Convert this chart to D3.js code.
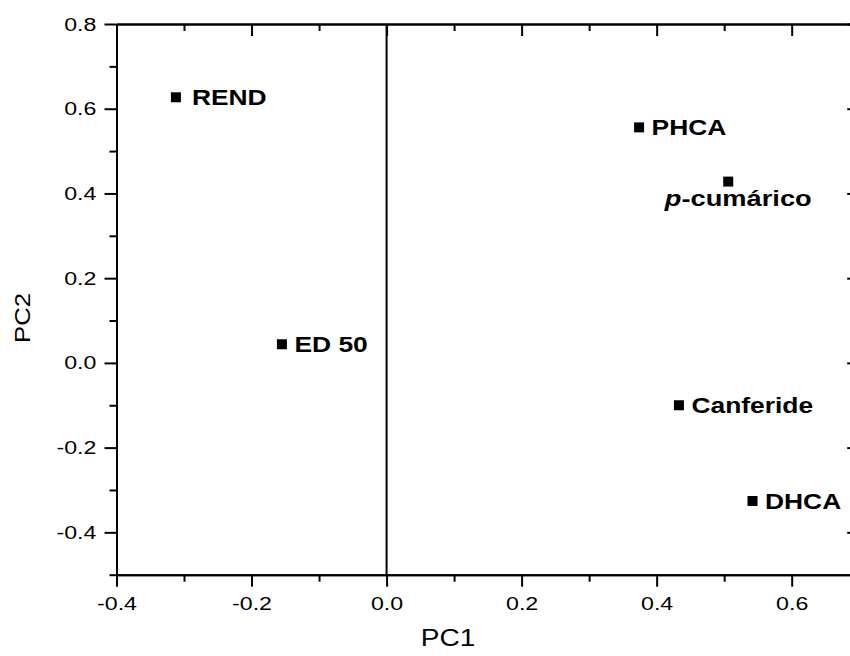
<!DOCTYPE html>
<html>
<head>
<meta charset="utf-8">
<script src="https://cdn.jsdelivr.net/npm/d3@7"></script>
<style>
  html, body { margin: 0; padding: 0; background: #fff; }
  svg { display: block; }
  .tick text { font-family: "Liberation Sans", Arial, sans-serif; font-size: 19px; fill: #000; }
  .axis path, .axis line { stroke: #000; stroke-width: 2px; }
  .pt-label { font-family: "Liberation Sans", Arial, sans-serif; font-weight: bold; font-size: 22px; fill: #000; }
  .title { font-family: "Liberation Sans", Arial, sans-serif; font-size: 23px; fill: #000; }
</style>
</head>
<body>
<script>
// PCA loadings: variable names and their PC1 / PC2 coordinates
const labels = ["REND", "ED 50", "PHCA", "p-cumárico", "Canferide", "DHCA"];
const pc1 = [-0.312, -0.155, 0.374, 0.506, 0.433, 0.542];
const pc2 = [0.627, 0.044, 0.556, 0.428, -0.100, -0.326];

// Axis ticks
const xMajor = [-0.4, -0.2, 0.0, 0.2, 0.4, 0.6];
const xMinor = [-0.3, -0.1, 0.1, 0.3, 0.5, 0.7];
const yMajor = [-0.4, -0.2, 0.0, 0.2, 0.4, 0.6, 0.8];
const yMinor = [-0.5, -0.3, -0.1, 0.1, 0.3, 0.5, 0.7];

const W = 850, H = 656;
const svg = d3.select("body").append("svg").attr("width", W).attr("height", H);

const x = d3.scaleLinear().domain([-0.4, 0.7]).range([116.5, 859.2]);
const y = d3.scaleLinear().domain([-0.5, 0.8]).range([574.7, 24]);

// plain hyphen for negatives, one decimal
const fmt = v => d3.format(".1f")(v).replace("\u2212", "-");
const big = 12, small = 7;
const wide = 1.22;   // horizontal glyph stretch used for all text

function addAxis(axisGen, transform, labelled) {
  const g = svg.append("g").attr("class", "axis").attr("transform", transform).call(axisGen);
  if (!labelled) g.selectAll(".tick text").remove();
  else g.selectAll(".tick text").attr("transform", `scale(${wide},1)`);
  return g;
}

// bottom axis (ticks outward, labelled)
addAxis(d3.axisBottom(x).tickValues(xMajor).tickSize(big).tickSizeOuter(0).tickPadding(10).tickFormat(fmt),
  `translate(0,${y(-0.5)})`, true);
addAxis(d3.axisBottom(x).tickValues(xMinor).tickSize(small).tickSizeOuter(0),
  `translate(0,${y(-0.5)})`, false);

// top axis (ticks inward, no labels)
addAxis(d3.axisTop(x).tickValues(xMajor).tickSize(-big).tickSizeOuter(0),
  `translate(0,${y(0.8)})`, false);
addAxis(d3.axisTop(x).tickValues(xMinor).tickSize(-small).tickSizeOuter(0),
  `translate(0,${y(0.8)})`, false);

// left axis (ticks outward, labelled)
addAxis(d3.axisLeft(y).tickValues(yMajor).tickSize(big).tickSizeOuter(0).tickPadding(4.5).tickFormat(fmt),
  `translate(${x(-0.4)},0)`, true);
addAxis(d3.axisLeft(y).tickValues(yMinor).tickSize(small).tickSizeOuter(0),
  `translate(${x(-0.4)},0)`, false);

// right axis (ticks inward, no labels)
addAxis(d3.axisRight(y).tickValues(yMajor).tickSize(-big).tickSizeOuter(0),
  `translate(${x(0.7)},0)`, false);
addAxis(d3.axisRight(y).tickValues(yMinor).tickSize(-small).tickSizeOuter(0),
  `translate(${x(0.7)},0)`, false);

// vertical reference line at PC1 = 0
svg.append("line")
  .attr("x1", x(0)).attr("x2", x(0))
  .attr("y1", y(0.8)).attr("y2", y(-0.5))
  .attr("stroke", "#000").attr("stroke-width", 2);

// points
const pts = labels.map((l, i) => ({ label: l, pc1: pc1[i], pc2: pc2[i] }));
const ms = 10;
svg.append("g").selectAll("rect").data(pts).join("rect")
  .attr("x", d => x(d.pc1) - ms / 2)
  .attr("y", d => y(d.pc2) - ms / 2)
  .attr("width", ms).attr("height", ms)
  .attr("fill", "#000");

// point labels: to the right of the marker, except p-cumárico which sits below
const lab = svg.append("g");
const labStretch = 1.2;
pts.forEach(d => {
  const px = x(d.pc1), py = y(d.pc2);
  if (d.label === "p-cumárico") {
    const t = lab.append("text").attr("class", "pt-label")
      .attr("transform", `translate(${px + 10},${py + 24.5}) scale(${labStretch + 0.04},1)`)
      .attr("text-anchor", "middle");
    t.append("tspan").attr("font-style", "italic").text("p");
    t.append("tspan").text("-cumárico");
  } else {
    const dx = d.label === "REND" ? 16 : 12.5;
    lab.append("text").attr("class", "pt-label")
      .attr("transform", `translate(${px + dx},${py + 8}) scale(${labStretch},1)`)
      .text(d.label);
  }
});

// axis titles
svg.append("text").attr("class", "title")
  .attr("transform", `translate(448,646) scale(${wide},1)`)
  .attr("text-anchor", "middle").text("PC1");
svg.append("text").attr("class", "title")
  .attr("transform", `translate(30,318) rotate(-90) scale(1.12,1)`)
  .attr("text-anchor", "middle").text("PC2");
</script>
</body>
</html>
